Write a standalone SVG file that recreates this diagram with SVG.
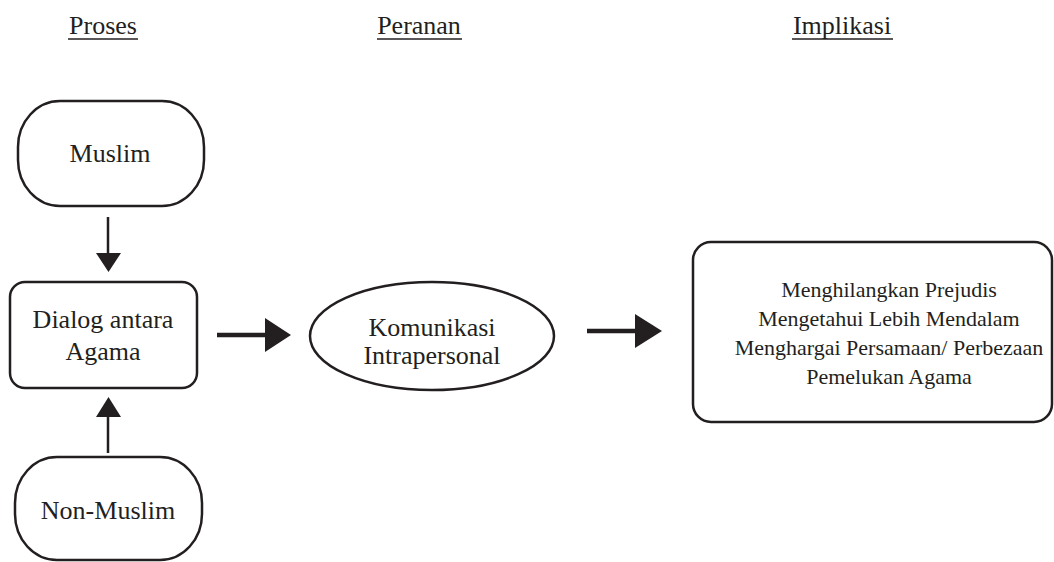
<svg xmlns="http://www.w3.org/2000/svg" width="1054" height="562" viewBox="0 0 1054 562">
<style>
text{font-family:"Liberation Serif","Times New Roman",serif;fill:#231f20;text-anchor:middle}
.t{font-size:26px}
.s{font-size:22px}
.box{fill:#fff;stroke:#231f20;stroke-width:2.5}
.ul{stroke:#231f20;stroke-width:1.5}
.v{stroke:#231f20;stroke-width:2.5;fill:none}
.h{stroke:#231f20;stroke-width:4.5;fill:none}
.head{fill:#231f20}
</style>
<rect width="1054" height="562" fill="#fff"/>
<g id="headers">
<text class="t" x="103" y="34">Proses</text>
<line class="ul" x1="68" y1="39" x2="138" y2="39"/>
<text class="t" x="419" y="34">Peranan</text>
<line class="ul" x1="377" y1="39" x2="462" y2="39"/>
<text class="t" x="842" y="34">Implikasi</text>
<line class="ul" x1="792" y1="39" x2="893" y2="39"/>
</g>
<g id="muslim">
<rect class="box" x="18" y="101" width="186" height="105" rx="42" ry="46"/>
<text class="t" x="110" y="162">Muslim</text>
</g>
<g id="dialog">
<rect class="box" x="10" y="282" width="187" height="106" rx="15" ry="15"/>
<text class="t" x="103" y="328">Dialog antara</text>
<text class="t" x="103" y="360">Agama</text>
</g>
<g id="nonmuslim">
<rect class="box" x="15" y="457" width="187" height="103" rx="42" ry="46"/>
<text class="t" x="108" y="519">Non-Muslim</text>
</g>
<g id="komunikasi">
<ellipse class="box" cx="432" cy="336" rx="122" ry="54"/>
<text class="t" x="432" y="336">Komunikasi</text>
<text class="t" x="432" y="364">Intrapersonal</text>
</g>
<g id="implikasi">
<rect class="box" x="693" y="242" width="359" height="180" rx="18" ry="18"/>
<text class="s" x="889" y="297">Menghilangkan Prejudis</text>
<text class="s" x="889" y="326">Mengetahui Lebih Mendalam</text>
<text class="s" x="889" y="355">Menghargai Persamaan/ Perbezaan</text>
<text class="s" x="889" y="384">Pemelukan Agama</text>
</g>
<g id="connectors">
<line class="v" x1="108" y1="217" x2="108" y2="255"/>
<polygon class="head" points="96,253 121,253 108.5,272"/>
<line class="v" x1="108" y1="453" x2="108" y2="415"/>
<polygon class="head" points="96,417 121,417 108.5,397"/>
<line class="h" x1="217" y1="335" x2="267" y2="335"/>
<polygon class="head" points="265,318 291,335 265,352"/>
<line class="h" x1="587" y1="331" x2="637" y2="331"/>
<polygon class="head" points="635,314 662,331 635,348"/>
</g>
</svg>
